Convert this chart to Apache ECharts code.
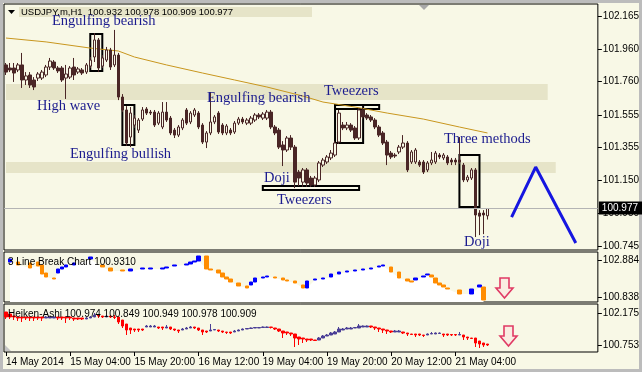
<!DOCTYPE html>
<html><head><meta charset="utf-8">
<script src="https://cdn.jsdelivr.net/npm/echarts@6/dist/echarts.min.js"></script>
<style>
html,body{margin:0;padding:0;background:#f8f8e6;}
#c{width:642px;height:372px;position:relative;box-shadow:inset 0 0 0 3px #bcbcbc;background:#f8f8e6;}
</style></head><body><div id="c"></div>
<script>
// ---------- DATA ----------
const tickLabels = ['14 May 2014','15 May 04:00','15 May 20:00','16 May 12:00','19 May 04:00','19 May 20:00','20 May 12:00','21 May 04:00'];
const tickStep = 16;
const slotCount = 148;
const symbolTitle = 'USDJPY,m,H1  100.932 100.978 100.909 100.977';
const lastPrice = 100.977;
const mainTicks = [102.165,101.960,101.760,101.555,101.355,101.150,100.950,100.745];
const lbTicks = [102.884,100.838];
const haTicks = [102.175,100.753];

// [open, close, low, high]
const candles = [
[101.863,101.819,101.801,101.875],[101.844,101.832,101.819,101.875],[101.844,101.813,101.758,101.875],[101.832,101.863,101.819,101.875],
[101.863,101.770,101.721,101.937],[101.770,101.795,101.739,101.819],[101.801,101.739,101.721,101.819],[101.770,101.727,101.708,101.788],
[101.782,101.807,101.764,101.819],[101.782,101.819,101.770,101.832],[101.801,101.850,101.788,101.863],[101.850,101.887,101.832,101.906],
[101.881,101.844,101.832,101.893],[101.844,101.826,101.813,101.856],[101.844,101.770,101.758,101.856],[101.782,101.807,101.653,101.863],
[101.788,101.844,101.776,101.856],[101.850,101.801,101.770,101.906],[101.819,101.838,101.807,101.850],[101.832,101.813,101.801,101.844],
[101.819,101.863,101.807,101.875],[101.856,101.893,101.844,101.912],[101.912,102.017,101.881,102.060],[102.017,101.844,101.819,102.029],
[101.856,101.906,101.844,101.924],[101.893,101.955,101.881,101.974],[101.955,101.850,101.832,101.968],[101.863,101.924,101.850,102.079],
[101.924,101.665,101.646,101.937],[101.665,101.585,101.572,101.683],[101.585,101.381,101.363,101.609],[101.418,101.566,101.356,101.603],
[101.492,101.535,101.474,101.554],[101.461,101.523,101.443,101.535],[101.529,101.585,101.517,101.603],[101.591,101.566,101.554,101.603],
[101.572,101.566,101.554,101.585],[101.572,101.492,101.480,101.585],[101.504,101.566,101.492,101.578],[101.480,101.572,101.467,101.634],
[101.572,101.523,101.511,101.634],[101.535,101.443,101.430,101.548],[101.461,101.430,101.412,101.474],[101.430,101.480,101.418,101.492],
[101.474,101.523,101.461,101.535],[101.585,101.504,101.492,101.597],[101.511,101.566,101.498,101.578],[101.554,101.585,101.542,101.597],
[101.566,101.480,101.467,101.578],[101.492,101.387,101.375,101.504],[101.387,101.443,101.350,101.455],[101.443,101.511,101.430,101.696],
[101.511,101.542,101.498,101.554],[101.566,101.449,101.437,101.578],[101.492,101.443,101.430,101.504],[101.443,101.486,101.430,101.498],
[101.461,101.443,101.430,101.474],[101.449,101.504,101.437,101.517],[101.504,101.529,101.492,101.542],[101.529,101.511,101.498,101.542],
[101.504,101.523,101.492,101.535],[101.504,101.535,101.492,101.548],[101.523,101.554,101.511,101.566],[101.554,101.542,101.529,101.566],
[101.535,101.560,101.523,101.572],[101.535,101.572,101.523,101.585],[101.572,101.480,101.467,101.585],[101.480,101.443,101.430,101.492],
[101.461,101.356,101.344,101.474],[101.369,101.338,101.239,101.393],[101.338,101.412,101.326,101.424],[101.412,101.356,101.338,101.430],
[101.356,101.140,101.103,101.369],[101.202,101.165,101.116,101.215],[101.140,101.215,101.110,101.227],[101.215,101.134,101.110,101.227],
[101.165,101.122,101.110,101.178],[101.122,101.165,101.110,101.178],[101.153,101.258,101.140,101.270],[101.245,101.276,101.233,101.289],
[101.264,101.295,101.252,101.307],[101.289,101.319,101.276,101.338],[101.307,101.381,101.295,101.393],[101.387,101.566,101.375,101.585],
[101.492,101.474,101.461,101.511],[101.474,101.492,101.461,101.511],[101.492,101.461,101.449,101.504],[101.474,101.412,101.400,101.486],
[101.412,101.585,101.400,101.597],[101.585,101.542,101.529,101.603],[101.554,101.535,101.523,101.566],[101.542,101.523,101.511,101.554],
[101.523,101.480,101.467,101.535],[101.480,101.430,101.418,101.492],[101.443,101.381,101.369,101.455],[101.387,101.307,101.245,101.400],
[101.319,101.295,101.282,101.332],[101.307,101.301,101.289,101.319],[101.326,101.356,101.313,101.369],[101.356,101.381,101.344,101.430],
[101.381,101.215,101.202,101.393],[101.264,101.326,101.252,101.338],[101.264,101.338,101.252,101.350],[101.264,101.245,101.233,101.276],
[101.264,101.202,101.190,101.276],[101.215,101.258,101.202,101.270],[101.258,101.276,101.245,101.326],[101.264,101.319,101.252,101.332],
[101.307,101.295,101.282,101.319],[101.289,101.307,101.276,101.319],[101.295,101.258,101.245,101.307],[101.276,101.264,101.245,101.289],
[101.276,101.264,101.245,101.289],[101.276,101.264,101.252,101.418],[101.245,101.153,101.140,101.258],[101.153,101.171,101.140,101.184],
[101.165,101.215,101.153,101.227],[101.215,100.937,100.801,101.227],[100.949,100.930,100.813,100.967],[100.949,100.937,100.819,100.967],
[100.932,100.977,100.909,100.978]
];

// moving average, read at selected bars [barIndex, value]
const maPoints = [[0,102.029],[10,102.005],[21,101.967],[28,101.949],[32,101.912],[40,101.863],[49,101.813],[57,101.770],
[65,101.727],[74,101.671],[79,101.634],[87,101.603],[95,101.566],[104,101.529],[113,101.480],[120,101.443]];

// 3 Line Break bricks [barIndex, open, close]
const lbBricks = [
[1,102.773,102.939],[3,102.773,102.608],[6,102.718,102.442],[8,102.773,102.552],[9,102.608,102.110],[10,102.165,101.944],
[12,101.889,101.833],[13,102.165,102.386],[14,102.386,102.497],[15,102.497,102.608],[17,102.608,102.718],[21,102.939,103.050],
[24,102.608,102.497],[26,102.442,102.276],[29,102.331,102.276],[31,102.276,102.386],[34,102.386,102.442],[36,102.386,102.442],
[39,102.386,102.442],[40,102.442,102.497],[42,102.552,102.608],[45,102.608,102.663],[46,102.663,102.773],[47,102.773,102.829],
[48,102.829,103.105],[50,103.105,102.386],[51,102.386,102.331],[53,102.331,102.165],[54,102.165,101.944],[55,101.944,101.833],
[56,101.833,101.667],[58,101.612,101.446],[60,101.446,101.336],[61,101.502,101.667],[62,101.667,101.889],[64,101.889,101.944],
[65,101.944,101.999],[67,101.944,101.889],[69,101.889,101.778],[70,101.778,101.723],[72,101.723,101.612],[74,101.502,101.336],
[75,101.336,101.723],[77,101.778,101.833],[79,101.833,101.889],[81,101.944,102.110],[83,102.110,102.220],[85,102.220,102.276],
[87,102.276,102.331],[89,102.331,102.386],[91,102.386,102.442],[93,102.497,102.552],[94,102.552,102.608],[96,102.497,102.220],
[98,102.220,101.889],[100,101.833,101.723],[101,101.723,101.667],[102,101.778,101.889],[104,101.944,101.999],[105,102.055,102.110],
[106,102.055,101.944],[107,101.889,101.612],[108,101.612,101.502],[109,101.502,101.391],[110,101.336,101.280],[113,101.225,101.004],
[116,101.004,101.280],[118,101.391,101.502],[119,101.391,100.672]
];

// Heiken-Ashi [open, close, low, high]
const haCandles = [
[102.219,101.997,101.908,102.219],[102.131,101.997,101.908,102.131],[102.042,101.997,101.864,102.042],[101.997,101.953,101.820,101.997],
[101.997,101.953,101.775,101.997],[101.997,101.953,101.864,101.997],[101.997,101.953,101.820,101.997],[101.997,101.953,101.820,101.997],
[101.997,101.953,101.864,101.997],[101.997,101.953,101.820,101.997],[101.953,101.997,101.953,102.042],[101.953,101.997,101.953,102.042],
[101.953,101.997,101.953,102.042],[101.997,101.953,101.864,101.997],[101.997,101.953,101.864,101.997],[101.997,101.953,101.731,101.997],
[101.997,101.953,101.864,101.997],[101.953,101.908,101.820,101.953],[101.953,101.908,101.864,101.953],[101.953,101.908,101.864,101.953],
[101.908,101.953,101.908,101.997],[101.953,101.997,101.953,102.042],[101.997,102.086,101.997,102.175],[102.086,102.042,101.953,102.086],
[102.042,101.997,101.953,102.042],[101.997,102.042,101.997,102.086],[102.042,101.997,101.953,102.042],[101.997,101.975,101.908,102.086],
[101.997,101.775,101.686,101.997],[101.864,101.597,101.508,101.864],[101.686,101.420,101.197,101.686],[101.508,101.420,101.242,101.508],
[101.464,101.420,101.331,101.464],[101.464,101.420,101.331,101.464],[101.464,101.420,101.375,101.464],[101.553,101.597,101.553,101.642],
[101.553,101.597,101.553,101.642],[101.553,101.597,101.553,101.642],[101.553,101.508,101.464,101.553],[101.553,101.508,101.420,101.553],
[101.508,101.553,101.508,101.642],[101.553,101.464,101.420,101.553],[101.464,101.420,101.375,101.464],[101.420,101.375,101.286,101.420],
[101.420,101.464,101.420,101.508],[101.464,101.508,101.464,101.553],[101.508,101.553,101.508,101.597],[101.553,101.508,101.464,101.553],
[101.508,101.420,101.375,101.508],[101.420,101.331,101.197,101.420],[101.375,101.331,101.286,101.375],[101.375,101.420,101.375,101.686],
[101.420,101.442,101.420,101.464],[101.420,101.375,101.331,101.420],[101.375,101.331,101.286,101.375],[101.331,101.309,101.242,101.331],
[101.331,101.286,101.242,101.331],[101.331,101.375,101.331,101.420],[101.375,101.420,101.375,101.442],[101.420,101.464,101.420,101.486],
[101.464,101.486,101.464,101.508],[101.486,101.508,101.486,101.530],[101.508,101.530,101.508,101.553],[101.508,101.530,101.508,101.553],
[101.530,101.553,101.530,101.575],[101.530,101.553,101.530,101.575],[101.553,101.530,101.486,101.553],[101.508,101.464,101.420,101.508],
[101.464,101.375,101.331,101.464],[101.375,101.286,101.064,101.375],[101.331,101.286,101.197,101.331],[101.286,101.242,101.153,101.286],
[101.242,101.064,100.664,101.242],[101.108,101.019,100.753,101.108],[101.064,101.019,100.842,101.064],[101.019,100.975,100.886,101.019],
[101.019,100.975,100.931,101.019],[100.975,100.953,100.931,100.975],[100.975,101.064,100.975,101.108],[101.064,101.153,101.064,101.197],
[101.153,101.197,101.153,101.242],[101.197,101.286,101.197,101.331],[101.242,101.331,101.242,101.375],[101.331,101.464,101.331,101.553],
[101.420,101.464,101.420,101.508],[101.464,101.508,101.464,101.553],[101.464,101.508,101.464,101.553],[101.508,101.530,101.508,101.553],
[101.508,101.597,101.508,101.686],[101.553,101.597,101.553,101.620],[101.553,101.597,101.553,101.620],[101.597,101.553,101.508,101.597],
[101.553,101.508,101.420,101.553],[101.508,101.464,101.331,101.508],[101.464,101.420,101.286,101.464],[101.420,101.375,101.242,101.420],
[101.375,101.331,101.286,101.375],[101.331,101.375,101.331,101.420],[101.331,101.375,101.331,101.420],[101.331,101.286,101.242,101.331],
[101.286,101.242,101.153,101.286],[101.242,101.220,101.197,101.242],[101.242,101.197,101.108,101.242],[101.242,101.197,101.153,101.242],
[101.197,101.175,101.108,101.197],[101.197,101.242,101.197,101.264],[101.242,101.264,101.242,101.331],[101.242,101.286,101.242,101.309],
[101.264,101.286,101.264,101.309],[101.242,101.197,101.108,101.242],[101.242,101.197,101.153,101.242],[101.220,101.197,101.153,101.220],
[101.220,101.197,101.153,101.220],[101.197,101.220,101.197,101.331],[101.197,101.108,100.975,101.197],[101.108,101.064,100.975,101.108],
[101.064,101.042,101.019,101.064],[101.064,100.842,100.664,101.064],[100.931,100.797,100.619,100.931],[100.842,100.753,100.664,100.842],
[100.797,100.753,100.708,100.797]
];

// chart annotations in data coordinates: [fromBar, toBar, priceTop, priceBottom]
const priceBands = [[-0.5,135,101.745,101.646],[-0.5,137,101.264,101.196]];
const patternBoxes = [[20.75,24.25,102.054,101.826],[29,32.25,101.616,101.369],[82,93,101.616,101.591],
[82,89.25,101.616,101.381],[63.75,88,101.116,101.091],[113,118,101.307,100.986]];
const zigzag = [[126,100.924],[132,101.233],[142,100.764]];

// ---------- BUILD ----------
const cats = Array.from({length: slotCount}, (_, i) => String(i));
const FONT = 'Liberation Sans';
const INK = '#000';
const BG = '#f8f8e6';
const BAND = '#e6e4c8';
const CANDLE = '#4a2626';

const maData = cats.map(() => null);
maPoints.forEach(([i, v]) => { maData[i] = v; });
const zzData = cats.map(() => null);
zigzag.forEach(([i, v]) => { zzData[i] = v; });
const lbData = cats.map(() => '-');
const lbArea = cats.map(() => null);
lbBricks.forEach(([i, o, c]) => {
  lbData[i] = [o, c, Math.min(o, c), Math.max(o, c)];
  lbArea[i] = Math.min(o, c);
});

const showTick = i => i % tickStep === 0 && i / tickStep < tickLabels.length;

function yAxisCfg(grid, min, max, ticks) {
  return {
    type: 'value', gridIndex: grid, position: 'right', min, max, scale: true,
    splitLine: {show: false}, axisLine: {show: false},
    axisTick: {show: true, length: 4, lineStyle: {color: INK}, customValues: ticks},
    axisLabel: {color: INK, fontSize: 10, fontFamily: FONT, margin: 5, customValues: ticks,
      formatter: v => Number(v).toFixed(3)}
  };
}
function xAxisCfg(grid, visible) {
  return {
    type: 'category', gridIndex: grid, data: cats, boundaryGap: true, show: visible,
    axisLine: {show: false}, splitLine: {show: false},
    axisTick: {show: visible, alignWithLabel: true, interval: i => showTick(i), length: 4, lineStyle: {color: INK}},
    axisLabel: {show: visible, interval: i => showTick(i), align: 'left', color: INK, fontSize: 10, fontFamily: FONT, margin: 5,
      formatter: (v) => tickLabels[Number(v) / tickStep] || ''}
  };
}
const gridCommon = {left: 4, right: 44, show: true, borderColor: INK, borderWidth: 1, backgroundColor: 'transparent'};

const patternLabels = [
  ['Engulfing bearish', 52, 21], ['High wave', 37, 106], ['Engulfing bullish', 70, 154],
  ['Engulfing bearish', 207, 98], ['Tweezers', 324, 91], ['Doji', 264, 178],
  ['Tweezers', 277, 200], ['Three methods', 444, 139], ['Doji', 464, 242]
];
const labelStyle = {fill: '#1b1b8e', font: '14.5px "Liberation Serif"', verticalAlign: 'middle',
  shadowColor: 'rgba(210,70,90,0.45)', shadowOffsetX: -1, shadowBlur: 0};

function arrow(x, y) {
  return {type: 'polygon', z: 50, shape: {points: [[x+4,y],[x+13,y],[x+13,y+10],[x+17,y+10],[x+8.5,y+20],[x,y+10],[x+4,y+10]]},
    style: {fill: 'rgba(255,200,210,0.25)', stroke: '#e03a64', lineWidth: 1.6}};
}

const option = {
  animation: false,
  backgroundColor: 'transparent',
  grid: [
    Object.assign({top: 4, height: 246}, gridCommon),
    Object.assign({top: 252, height: 50}, gridCommon),
    Object.assign({top: 304, height: 48}, gridCommon)
  ],
  xAxis: [xAxisCfg(0, false), xAxisCfg(1, false), xAxisCfg(2, true)],
  yAxis: [
    yAxisCfg(0, 100.721, 102.239, mainTicks),
    yAxisCfg(1, 100.561, 103.326, lbTicks),
    yAxisCfg(2, 100.442, 102.575, haTicks)
  ],
  series: [
    {type: 'line', xAxisIndex: 0, yAxisIndex: 0, data: [], z: 1, silent: true,
      markArea: {silent: true, itemStyle: {color: BAND},
        data: priceBands.map(b => [{coord: [b[0], b[2]]}, {coord: [b[1], b[3]]}])}},
    {type: 'line', xAxisIndex: 0, yAxisIndex: 0, data: maData, connectNulls: true, symbol: 'none', z: 2, silent: true,
      lineStyle: {color: '#c8961e', width: 1}},
    {type: 'candlestick', xAxisIndex: 0, yAxisIndex: 0, data: candles, barWidth: 3, z: 3, silent: true,
      itemStyle: {color: BG, color0: CANDLE, borderColor: CANDLE, borderColor0: CANDLE, borderWidth: 1},
      markLine: {silent: true, symbol: ['none', 'none'], animation: false,
        lineStyle: {color: '#b4b4b4', width: 1, type: 'solid'},
        label: {show: true, position: 'end', formatter: lastPrice.toFixed(3), color: '#fff', backgroundColor: '#000',
          padding: [2, 4, 1, 3], fontSize: 10, fontFamily: FONT, distance: 1},
        data: [{yAxis: lastPrice}]}},
    {type: 'line', xAxisIndex: 0, yAxisIndex: 0, data: [], z: 5, silent: true,
      markArea: {silent: true, itemStyle: {color: 'rgba(0,0,0,0)', borderColor: '#000', borderWidth: 2},
        data: patternBoxes.map(b => [{coord: [b[0], b[2]]}, {coord: [b[1], b[3]]}])}},
    {type: 'line', xAxisIndex: 0, yAxisIndex: 0, data: zzData, connectNulls: true, symbol: 'none', z: 5, silent: true,
      lineStyle: {color: '#1616e0', width: 3}},
    {type: 'line', xAxisIndex: 1, yAxisIndex: 1, data: lbArea, connectNulls: true, symbol: 'none', z: 1, silent: true,
      lineStyle: {width: 0, opacity: 0}, areaStyle: {color: '#ffffff', opacity: 1, origin: 'start'}},
    {type: 'candlestick', xAxisIndex: 1, yAxisIndex: 1, data: lbData, barWidth: 4, z: 3, silent: true,
      itemStyle: {color: '#0000ff', color0: '#ff8c00', borderColor: '#0000ff', borderColor0: '#ff8c00', borderWidth: 1}},
    {type: 'candlestick', xAxisIndex: 2, yAxisIndex: 2, data: haCandles, barWidth: 3, z: 3, silent: true,
      itemStyle: {color: '#4b3f96', color0: '#ff0000', borderColor: '#4b3f96', borderColor0: '#ff0000', borderWidth: 1}}
  ],
  graphic: [
    {type: 'rect', z: 40, shape: {x: 19, y: 7, width: 293, height: 10}, style: {fill: BAND}},
    {type: 'polygon', z: 41, shape: {points: [[8,10],[15,10],[11.5,14]]}, style: {fill: '#000'}},
    {type: 'text', z: 42, x: 21, y: 12, style: {text: symbolTitle, fill: '#000', font: '9.5px "Liberation Sans"', verticalAlign: 'middle'}},
    {type: 'polygon', z: 41, shape: {points: [[419,5],[429,5],[424,10]]}, style: {fill: '#a8a8a8'}},
    {type: 'polygon', z: 41, shape: {points: [[5,345],[5,351],[11,351]]}, style: {fill: '#c4c4c4'}},
    {type: 'text', z: 42, x: 8, y: 262, style: {text: '3 Line Break Chart 100.9310', fill: '#000', font: '10px "Liberation Sans"', verticalAlign: 'middle'}},
    {type: 'text', z: 42, x: 8, y: 314, style: {text: 'Heiken-Ashi 100.974 100.849 100.949 100.978 100.909', fill: '#000', font: '10px "Liberation Sans"', verticalAlign: 'middle'}},
    arrow(496, 278),
    arrow(500, 326)
  ].concat(patternLabels.map(([t, x, y]) => ({type: 'text', z: 45, x, y, style: Object.assign({text: t}, labelStyle)})))
};

const chart = echarts.init(document.getElementById('c'), null, {renderer: 'canvas'});
chart.setOption(option);
</script></body></html>
